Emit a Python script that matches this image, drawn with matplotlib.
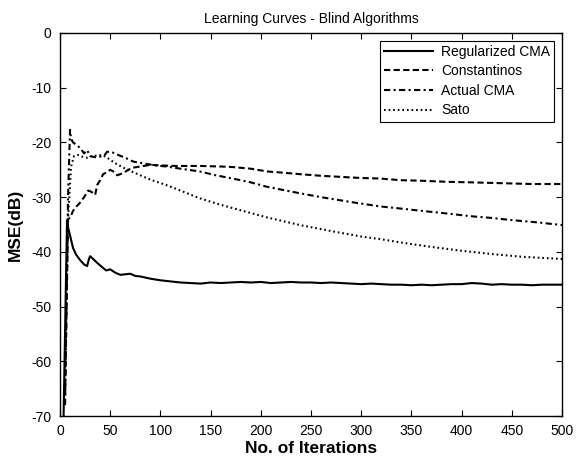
import matplotlib
matplotlib.use('Agg')
import matplotlib.pyplot as plt

plt.rcParams['font.family'] = ['Liberation Sans', 'DejaVu Sans']
plt.rcParams['axes.unicode_minus'] = False

# Regularized CMA (solid)
reg_x = [3, 7, 8, 10, 13, 16, 20, 24, 27, 29, 30, 33, 37, 42, 46, 50, 55, 60, 65, 70,
         75, 80, 90, 100, 110, 120, 130, 140, 150, 160, 170, 180, 190, 200, 210, 220,
         230, 240, 250, 260, 270, 280, 290, 300, 310, 320, 330, 340, 350, 360, 370, 380,
         390, 400, 410, 420, 430, 440, 450, 460, 470, 480, 490, 500]
reg_y = [-76, -34.2, -35.5, -37, -39.3, -40.5, -41.5, -42.3, -42.6, -41.2, -40.8, -41.3,
         -42.0, -42.8, -43.4, -43.2, -43.8, -44.2, -44.1, -44.0, -44.4, -44.5, -44.9, -45.2,
         -45.4, -45.6, -45.7, -45.8, -45.6, -45.7, -45.6, -45.5, -45.6, -45.5, -45.7, -45.6,
         -45.5, -45.6, -45.6, -45.7, -45.6, -45.7, -45.8, -45.9, -45.8, -45.9, -46.0, -46.0,
         -46.1, -46.0, -46.1, -46.0, -45.9, -45.9, -45.7, -45.8, -46.0, -45.9, -46.0, -46.0,
         -46.1, -46.0, -46.0, -46.0]

# Constantinos (dashed)
con_x = [5, 8, 10, 13, 16, 20, 24, 28, 31, 35, 37, 40, 43, 47, 50, 53, 57, 63, 68, 73,
         80, 90, 100, 115, 139, 160, 172, 190, 206, 220, 239, 260, 280, 300, 319, 339,
         360, 386, 410, 430, 450, 470, 490, 500]
con_y = [-68, -34, -33.8, -32.5, -31.8, -31.0, -30.0, -28.8, -29.0, -29.6, -27.8, -26.9,
         -25.8, -25.4, -25.0, -25.3, -26.0, -25.6, -25.0, -24.6, -24.4, -24.1, -24.2, -24.3,
         -24.3, -24.4, -24.5, -24.8, -25.3, -25.5, -25.8, -26.1, -26.3, -26.5, -26.6, -26.9,
         -27.0, -27.2, -27.3, -27.4, -27.5, -27.6, -27.6, -27.6]

# Actual CMA (dash-dot)
act_x = [5, 8, 10, 11, 13, 16, 20, 24, 27, 30, 35, 40, 44, 47, 52, 58, 65, 73, 85, 95,
         106, 120, 139, 155, 172, 190, 206, 239, 260, 290, 319, 340, 360, 386, 410, 430,
         450, 475, 500]
act_y = [-68, -30, -17.7, -19.3, -20.0, -20.4, -21.0, -22.0, -21.4, -22.5, -22.7, -22.6,
         -22.4, -21.7, -21.8, -22.3, -22.8, -23.5, -23.9, -24.2, -24.4, -24.8, -25.3, -26.0,
         -26.6, -27.3, -28.1, -29.3, -30.0, -30.9, -31.7, -32.1, -32.5, -33.0, -33.5, -33.8,
         -34.2, -34.6, -35.1]

# Sato (dotted)
sato_x = [5, 8, 11, 14, 18, 22, 27, 32, 37, 42, 47, 55, 65, 75, 90, 106, 120, 139, 160,
          172, 190, 206, 239, 270, 300, 320, 340, 370, 400, 430, 460, 480, 500]
sato_y = [-62, -34, -24.4, -22.5, -22.3, -22.6, -22.8, -22.5, -22.4, -22.3, -22.8, -23.8,
          -24.8, -25.6, -26.8, -27.8, -28.8, -30.2, -31.4, -32.0, -32.9, -33.7, -35.1, -36.2,
          -37.2, -37.7, -38.3, -39.1, -39.8, -40.4, -40.9, -41.1, -41.3]

fig = plt.figure(figsize=(5.77, 4.58), dpi=100)
ax = fig.add_axes([60 / 577, 42 / 458, 502 / 577, 383 / 458])

lw = 1.5
ax.plot(reg_x, reg_y, color='black', lw=lw, linestyle='-', label='Regularized CMA')
ax.plot(con_x, con_y, color='black', lw=lw, linestyle=(0, (3, 1.6)), label='Constantinos')
ax.plot(act_x, act_y, color='black', lw=lw, linestyle=(0, (3, 1.6, 1, 1.6)), label='Actual CMA')
ax.plot(sato_x, sato_y, color='black', lw=lw, linestyle=(0, (0.8, 1.4)), label='Sato')

ax.set_xlim(0, 500)
ax.set_ylim(-70, 0)
ax.set_xticks(range(0, 501, 50))
ax.set_yticks(range(-70, 1, 10))
ax.tick_params(direction='in', top=True, right=True, length=4, width=0.8,
               labelsize=10, pad=6)
for s in ax.spines.values():
    s.set_linewidth(1.0)

ax.set_title('Learning Curves - Blind Algorithms', fontsize=10, pad=7)
ax.set_xlabel('No. of Iterations', fontsize=12.5, fontweight='bold', labelpad=2)
ax.set_ylabel('MSE(dB)', fontsize=12.5, fontweight='bold', labelpad=6)

leg = ax.legend(loc='upper right', fontsize=10, handlelength=3.5, handletextpad=0.6,
                labelspacing=0.4, borderaxespad=0.55, fancybox=False, framealpha=1,
                edgecolor='black', borderpad=0.3)
leg.get_frame().set_linewidth(0.8)

fig.savefig('out.png', dpi=100)
